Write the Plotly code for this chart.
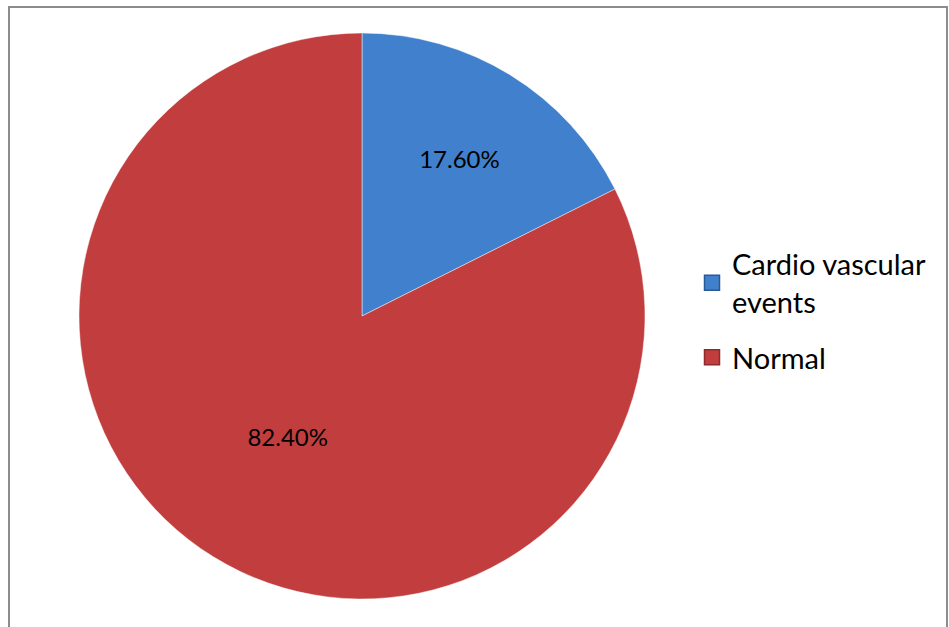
import plotly.graph_objects as go

categories = ["Cardio vascular<br>events", "Normal"]
values = [17.6, 82.4]
colors = ["#4180CC", "#C23E3E"]
edge_colors = ["#2A5A96", "#8E2A2A"]

W, H = 949, 627
cx, cy, r = 362, 316, 283
FONT = "Lato, Carlito, Calibri, sans-serif"

fig = go.Figure()
fig.add_trace(go.Pie(
    labels=categories,
    values=values,
    sort=False,
    direction="clockwise",
    rotation=0,
    marker=dict(colors=colors, line=dict(color="rgba(255,255,255,0.45)", width=1)),
    texttemplate="%{percent:.2%}",
    textposition="inside",
    insidetextorientation="horizontal",
    textfont=dict(family=FONT, size=24, color="#000000"),
    hoverinfo="label+percent",
    showlegend=False,
    domain=dict(x=[(cx - r) / W, (cx + r) / W], y=[(H - cy - r) / H, (H - cy + r) / H]),
))

# legend entries (one group each so the gap between them can be set)
for name, col, ecol in zip(categories, colors, edge_colors):
    fig.add_trace(go.Scatter(
        x=[None], y=[None], mode="markers", name=name,
        legendgroup=name, showlegend=True,
        marker=dict(symbol="square", size=15, color=col, line=dict(color=ecol, width=1.5)),
        hoverinfo="skip",
    ))

fig.update_layout(
    width=W, height=H,
    margin=dict(l=0, r=0, t=0, b=0),
    paper_bgcolor="white",
    plot_bgcolor="rgba(0,0,0,0)",
    xaxis=dict(visible=False, showgrid=False, zeroline=False),
    yaxis=dict(visible=False, showgrid=False, zeroline=False),
    showlegend=True,
    legend=dict(
        x=692 / W, xanchor="left",
        y=(H - 311) / H, yanchor="middle",
        font=dict(family=FONT, size=29, color="#000000"),
        bgcolor="rgba(0,0,0,0)",
        tracegroupgap=15,
        traceorder="grouped",
    ),
    shapes=[dict(
        type="rect", xref="paper", yref="paper",
        x0=9 / W, x1=947 / W, y0=-0.05, y1=(H - 7) / H,
        line=dict(color="#8C8C8C", width=2), fillcolor="rgba(0,0,0,0)", layer="below",
    )],
)

fig.write_html("out.html")
